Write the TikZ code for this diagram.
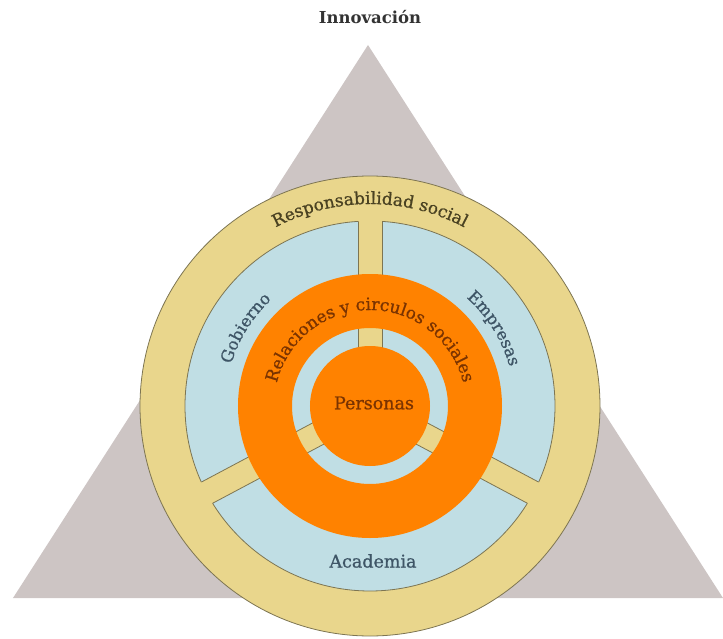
\documentclass[tikz,border=0pt]{standalone}
\usepackage{fontspec}
\setmainfont{DejaVu Serif}
\newfontfamily\midfont{DejaVu Serif}[FakeBold=0.9]
\usetikzlibrary{decorations.text}
\definecolor{tri}{HTML}{CDC5C4}
\definecolor{ringY}{HTML}{E9D68C}
\definecolor{ringB}{HTML}{C0DEE4}
\definecolor{org}{HTML}{FF8200}
\definecolor{edge}{HTML}{7D7552}
\definecolor{txtY}{HTML}{4A4222}
\definecolor{txtB}{HTML}{3E5566}
\definecolor{txtO}{HTML}{7A3300}
\definecolor{txtK}{HTML}{333333}
\tikzset{
  ringline/.style={draw=edge, line width=0.8pt},
  arclabel/.style={decorate, decoration={text along path, text align=center, text={#1}}},
  flatlabel/.style={inner sep=0pt, font=\midfont\fontsize{17.5}{17.5}\selectfont}
}
\begin{document}
\begin{tikzpicture}[x=1pt,y=1pt]
\useasboundingbox (-370,-232) rectangle (353,406);
\begin{scope}
\clip (-370,-232) rectangle (353,406);
% triangle
\fill[tri] (-2,361) -- (-357,-192) -- (353,-192) -- cycle;
% outer yellow ring
\draw[ringline, fill=ringY] (0,0) circle (230);
% blue disc
\draw[ringline, fill=ringB] (0,0) circle (185);
% yellow strips
\foreach \a in {90,208,332} {
  \fill[ringY, rotate=\a] (0,-12) rectangle (195,12);
}
\begin{scope}
\clip (0,0) circle (185);
\foreach \a in {90,208,332} {
  \draw[ringline, rotate=\a] (0,-12) -- (195,-12) (0,12) -- (195,12);
}
\end{scope}
% orange ring and centre
\fill[org, even odd rule] (0,0) circle (132) (0,0) circle (78);
\fill[org] (0,0) circle (60);
\end{scope}
% labels
\node[inner sep=0pt, font=\bfseries\fontsize{16.5}{16.5}\selectfont, text=txtK] (innov) at (0,389) {Innovación};
\path[arclabel={|\midfont\fontsize{17}{17}\selectfont\color{txtY}|Responsabilidad social}] (140:202) arc[start angle=140, end angle=40, radius=202];
\path[arclabel={|\midfont\fontsize{16.5}{16.5}\selectfont\color{txtB}|Gobierno}] (178:145) arc[start angle=178, end angle=118, radius=145];
\path[arclabel={|\midfont\fontsize{16.5}{16.5}\selectfont\color{txtB}|Empresas}] (62:145) arc[start angle=62, end angle=2, radius=145];
\path[arclabel={|\midfont\fontsize{17}{17}\selectfont\color{txtO}|Relaciones y circulos sociales}] (180:96) arc[start angle=180, end angle=0, radius=96];
\node[flatlabel, text=txtB] (acad) at (3,-155) {Academia};
\node[flatlabel, text=txtO] (pers) at (4,3) {Personas};
\end{tikzpicture}
\end{document}
